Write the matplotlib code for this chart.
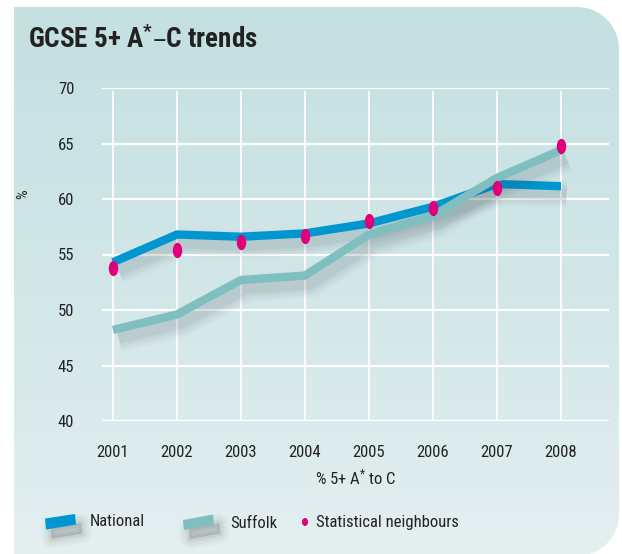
import numpy as np
import matplotlib
matplotlib.use("Agg")
import matplotlib.pyplot as plt
from matplotlib import font_manager as fm
from matplotlib.path import Path
from matplotlib.patches import PathPatch, Polygon, Ellipse
import matplotlib.patheffects as pe
from matplotlib import transforms as mtrans
from matplotlib.colors import LinearSegmentedColormap

# ---------------- data ----------------
years = [2001, 2002, 2003, 2004, 2005, 2006, 2007, 2008]
national = [54.3, 56.8, 56.6, 56.9, 57.8, 59.3, 61.35, 61.15]
suffolk = [48.2, 49.6, 52.7, 53.1, 56.8, 58.5, 61.9, 64.4]
stat_neighbours = [53.8, 55.45, 56.1, 56.7, 58.0, 59.15, 60.95, 64.8]
y_ticks = [40, 45, 50, 55, 60, 65, 70]
title_text = "GCSE 5+ A$^{*}$\u2013C trends"
x_label = "% 5+ A$^{*}$ to C"
y_label = "%"
legend_labels = ["National", "Suffolk", "Statistical neighbours"]

# ---------------- fonts ----------------
avail = {f.name for f in fm.fontManager.ttflist}
family = None
for cand in ["Liberation Sans Narrow", "Roboto Condensed", "Open Sans Condensed"]:
    if cand in avail:
        family = cand
        break
if family is None:
    family = "DejaVu Sans"
plt.rcParams["font.family"] = [family, "DejaVu Sans"]
plt.rcParams["font.stretch"] = "condensed"
plt.rcParams["mathtext.default"] = "regular"

W, H = 622, 554
fig = plt.figure(figsize=(W / 100, H / 100), dpi=100)
fig.patch.set_facecolor("white")

bg = fig.add_axes([0, 0, 1, 1])
bg.set_xlim(0, W)
bg.set_ylim(H, 0)
bg.axis("off")

# panel with rounded right corners
x0, x1, y0, y1, r = 14, 619, 7, 556, 42
th1 = np.linspace(-np.pi / 2, 0, 20)
th2 = np.linspace(0, np.pi / 2, 20)
pts = [(x0, y0), (x1 - r, y0)]
pts += [(x1 - r + r * np.cos(t), y0 + r + r * np.sin(t)) for t in th1]
pts += [(x1 - r + r * np.cos(t), y1 - r + r * np.sin(t)) for t in th2]
pts += [(x0, y1), (x0, y0)]
panel = PathPatch(Path(pts), facecolor="none", edgecolor="none", transform=bg.transData)
bg.add_patch(panel)
grad = np.linspace(0, 1, 256).reshape(-1, 1)
cmap = LinearSegmentedColormap.from_list("bgc", ["#c4e0e1", "#d2e6e8", "#e4eff0"])
im = bg.imshow(grad, extent=(x0, x1, y1, y0), cmap=cmap, aspect="auto", zorder=0)
im.set_clip_path(panel)

# title
bg.text(28, 40, title_text, fontsize=19.5, fontweight="bold", color="#222222",
        ha="left", va="center")

# legend
def swatch(pts, color):
    sh = np.array(pts) + np.array([6, 9])
    for k, a in zip([14, 10, 6, 3], [0.03, 0.04, 0.05, 0.06]):
        bg.add_patch(Polygon(sh, closed=True, facecolor="#404040", edgecolor="#404040",
                             lw=k, alpha=a, joinstyle="round"))
    bg.add_patch(Polygon(pts, closed=True, facecolor=color, edgecolor="none"))

swatch([(45, 518.5), (75, 514), (76, 524.5), (46, 529.5)], "#0096d0")
swatch([(183, 520), (213, 514.5), (214, 524.5), (184, 530)], "#7fbfc0")
bg.text(90, 522, legend_labels[0], fontsize=12, color="#222222", ha="left", va="center")
bg.text(230, 523, legend_labels[1], fontsize=12, color="#222222", ha="left", va="center")
bg.add_patch(Ellipse((305, 522), 6, 8, facecolor="#e0007a", edgecolor="none"))
bg.text(316, 523, legend_labels[2], fontsize=12, color="#222222", ha="left", va="center")

# ---------------- main axes ----------------
ax_l, ax_r, ax_t, ax_b = 102, 609, 88, 421
ax = fig.add_axes([ax_l / W, 1 - ax_b / H, (ax_r - ax_l) / W, (ax_b - ax_t) / H])
ax.patch.set_alpha(0)
ax.set_xlim(2001 - 11 / 64, 2008 + 48 / 64)
ax.set_ylim(40, 70)
for s in ax.spines.values():
    s.set_visible(False)
ax.set_yticks(y_ticks)
ax.set_xticks(years)
ax.tick_params(length=0, labelsize=12, colors="#222222")
ax.tick_params(axis="y", pad=20)
ax.tick_params(axis="x", pad=17)
for yv in y_ticks:
    ax.axhline(yv, color="white", lw=1.6, zorder=1)
for xv in years:
    ax.plot([xv, xv], [40, 69.6], color="white", lw=1.3, zorder=1)

ax.set_xlabel(x_label, fontsize=12, color="#222222", labelpad=6)
ax.set_ylabel(y_label, fontsize=11, color="#222222", labelpad=4)
ax.yaxis.set_label_coords(-(ax_l - 30) / (ax_r - ax_l), (ax_b - 194) / (ax_b - ax_t))

def shadows():
    return [pe.SimpleLineShadow(offset=(4, -6), shadow_color="#303a40", alpha=a, linewidth=w)
            for w, a in [(20, 0.025), (16, 0.035), (12, 0.045), (8, 0.06)]] + [pe.Normal()]

ax.plot(years, national, color="#0096d0", lw=6, solid_capstyle="butt",
        solid_joinstyle="miter", zorder=3, path_effects=shadows())
ax.plot(years, suffolk, color="#7fbfc0", lw=6, solid_capstyle="butt",
        solid_joinstyle="miter", zorder=4, path_effects=shadows())

ell = Path.unit_circle().transformed(mtrans.Affine2D().scale(0.62, 1.0))
ax.plot(years, stat_neighbours, linestyle="none", marker=ell, markersize=11,
        markerfacecolor="#e0007a", markeredgecolor="none", zorder=5)

fig.savefig("out.png", dpi=100)
